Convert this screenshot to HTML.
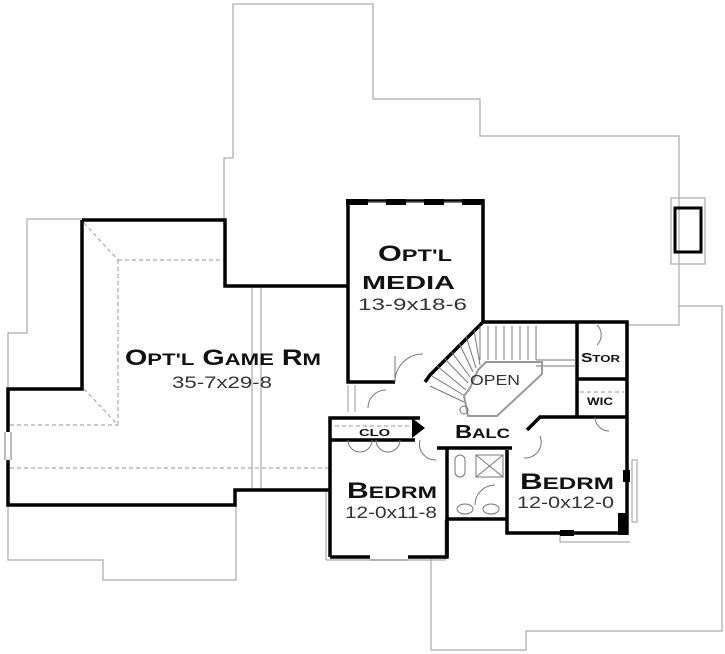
<!DOCTYPE html>
<html><head><meta charset="utf-8"><style>
html,body{margin:0;padding:0;background:#fff;}
svg{display:block;}
.t{font-family:"Liberation Sans",sans-serif;font-weight:bold;fill:#111;}
.d{font-family:"Liberation Sans",sans-serif;fill:#333;}
</style></head><body>
<svg width="725" height="654" viewBox="0 0 725 654" xmlns="http://www.w3.org/2000/svg">
<g fill="none" stroke="#aaa" stroke-width="1.2">
<polyline points="224,220 224,158 233,158 233,4 373,4 373,99 480,99 480,136 679,136 679,325 627,325"/>
<polyline points="679,306 722,306 722,631 526,631 526,650 431,650 431,557"/>
<rect x="671" y="198" width="34" height="66"/>
<polyline points="82,219 27,219 27,333 8,333 8,389"/>
<polyline points="8,505 8,560 103,560 103,580 236,580 236,505"/>
<line x1="252" y1="287" x2="252" y2="490"/>
<line x1="261" y1="287" x2="261" y2="490"/>
<line x1="326" y1="490" x2="326" y2="560"/>
<polyline points="326,560 445,560 445,520"/>
<rect x="632" y="460" width="5" height="62"/>
<polyline points="560,533 560,542 630,542"/>
<line x1="348" y1="385" x2="348" y2="412"/>
<line x1="355" y1="385" x2="355" y2="412"/>
</g>
<g fill="none" stroke="#aaa" stroke-width="1.2" stroke-dasharray="4,3">
<line x1="84" y1="223" x2="118" y2="260"/>
<line x1="118" y1="260" x2="225" y2="260"/>
<line x1="118" y1="260" x2="118" y2="425"/>
<line x1="84" y1="389" x2="118" y2="425"/>
<line x1="10" y1="425" x2="118" y2="425"/>
<line x1="10" y1="468" x2="330" y2="468"/>
<line x1="335" y1="426" x2="415" y2="426"/>
<line x1="580" y1="392" x2="624" y2="392"/>
</g>
<g fill="none" stroke="#000" stroke-width="3.5" stroke-linejoin="miter">
<polyline points="82,220 82,389 8,389 8,432"/>
<polyline points="8,460 8,505 235,505 235,490 330,490"/>
<polyline points="82,220 225,220 225,286 348,286"/>
<polyline points="395,382 348,382 348,201 483,201 483,322 627,322 627,533 507,533 507,450"/>
<polyline points="483,322 430,375 425,382"/>
<polyline points="330,557 330,418 420,418"/>
<polyline points="330,557 370,557"/>
<polyline points="408,557 447,557 447,519 507,519"/>
<line x1="447" y1="448" x2="447" y2="557"/>
<line x1="437" y1="448" x2="512" y2="448"/>
<polyline points="527,430 540,417 626,417"/>
<polyline points="577,322 577,417"/>
<line x1="577" y1="379" x2="626" y2="379"/>
<line x1="330" y1="440" x2="415" y2="440"/>
</g>
<polygon points="412,418 425,428 412,438" fill="#000"/>
<g fill="#000">
<rect x="346" y="199" width="22" height="6"/><rect x="386" y="199" width="20" height="6"/><rect x="424" y="199" width="20" height="6"/><rect x="462" y="199" width="22" height="6"/>
<rect x="623" y="470" width="7" height="12"/><rect x="618" y="513" width="10" height="22"/>
<rect x="560" y="530" width="14" height="6"/><rect x="675" y="208" width="26" height="44" fill="none" stroke="#000" stroke-width="3"/>
</g>
<g fill="none" stroke="#777" stroke-width="1">
<line x1="368" y1="202" x2="386" y2="202"/><line x1="406" y1="202" x2="424" y2="202"/><line x1="444" y1="202" x2="462" y2="202"/>
<line x1="5" y1="432" x2="5" y2="460"/><line x1="11" y1="432" x2="11" y2="460"/>
<line x1="370" y1="560" x2="408" y2="560"/>
<line x1="480" y1="326" x2="480" y2="360"/><line x1="488" y1="326" x2="488" y2="360"/><line x1="496" y1="326" x2="496" y2="360"/><line x1="504" y1="326" x2="504" y2="360"/><line x1="512" y1="326" x2="512" y2="360"/><line x1="520" y1="326" x2="520" y2="360"/><line x1="528" y1="326" x2="528" y2="360"/><line x1="536" y1="326" x2="536" y2="360"/>
<line x1="536" y1="360" x2="576" y2="360"/><line x1="536" y1="366" x2="576" y2="366"/>
<line x1="474" y1="330" x2="480" y2="365"/><line x1="466" y1="336" x2="476" y2="368"/><line x1="459" y1="343" x2="473" y2="372"/><line x1="451" y1="351" x2="470" y2="377"/><line x1="444" y1="358" x2="468" y2="383"/><line x1="437" y1="366" x2="466" y2="390"/><line x1="432" y1="376" x2="465" y2="396"/><line x1="430" y1="386" x2="464" y2="402"/>
<polygon points="486,362 542,362 542,374 497,416 468,416 464,396 470,388 478,370" stroke="#999" stroke-width="2"/>
<circle cx="464" cy="410" r="4"/>
<path d="M395,382 A28,28 0 0 1 423,354"/><line x1="395" y1="382" x2="395" y2="356"/>
<path d="M368,408 A18,18 0 0 1 386,390"/>
<path d="M420,440 A16,16 0 0 0 436,460"/><path d="M540,436 A16,16 0 0 1 524,458"/>
<path d="M348,440 A12,12 0 0 0 360,452 A12,12 0 0 0 372,440"/>
<path d="M376,440 A12,12 0 0 0 388,452 A12,12 0 0 0 400,440"/>
<path d="M597,325 A14,14 0 0 1 597,345"/>
<path d="M595,417 A14,14 0 0 0 609,431"/>
<rect x="455" y="455" width="10" height="22" rx="5"/>
<rect x="476" y="455" width="27" height="22"/><line x1="476" y1="455" x2="503" y2="477"/><line x1="503" y1="455" x2="476" y2="477"/>
<path d="M475,505 A20,20 0 0 1 495,485"/>
<ellipse cx="465" cy="509" rx="8" ry="5"/><ellipse cx="491" cy="509" rx="8" ry="5"/>
</g>
<g class="t">
<text x="125" y="365" font-size="22" textLength="196" lengthAdjust="spacingAndGlyphs">O<tspan font-size="17">PT'L</tspan> G<tspan font-size="17">AME</tspan> R<tspan font-size="17">M</tspan></text>
<text x="378" y="261" font-size="22" textLength="74" lengthAdjust="spacingAndGlyphs">O<tspan font-size="17">PT'L</tspan></text>
<text x="362" y="289" font-size="18" textLength="93" lengthAdjust="spacingAndGlyphs">MEDIA</text>
<text x="347" y="498" font-size="22" textLength="90" lengthAdjust="spacingAndGlyphs">B<tspan font-size="17">EDRM</tspan></text>
<text x="520" y="489" font-size="22" textLength="94" lengthAdjust="spacingAndGlyphs">B<tspan font-size="17">EDRM</tspan></text>
<text x="455" y="438" font-size="18" textLength="55" lengthAdjust="spacingAndGlyphs">B<tspan font-size="14">ALC</tspan></text>
<text x="581" y="362" font-size="13" textLength="39" lengthAdjust="spacingAndGlyphs">S<tspan font-size="10">TOR</tspan></text>
<text x="587" y="405" font-size="11" textLength="26" lengthAdjust="spacingAndGlyphs">WIC</text>
<text x="359" y="436" font-size="10" textLength="31" lengthAdjust="spacingAndGlyphs">CLO</text>
</g>
<g class="d">
<text x="172" y="388" font-size="17" textLength="100" lengthAdjust="spacingAndGlyphs">35-7x29-8</text>
<text x="358" y="310" font-size="17" textLength="109" lengthAdjust="spacingAndGlyphs">13-9x18-6</text>
<text x="345" y="518" font-size="17" textLength="92" lengthAdjust="spacingAndGlyphs">12-0x11-8</text>
<text x="517" y="508" font-size="17" textLength="97" lengthAdjust="spacingAndGlyphs">12-0x12-0</text>
<text x="470" y="385" font-size="15" textLength="50" lengthAdjust="spacingAndGlyphs">OPEN</text>
</g>
</svg>
</body></html>
